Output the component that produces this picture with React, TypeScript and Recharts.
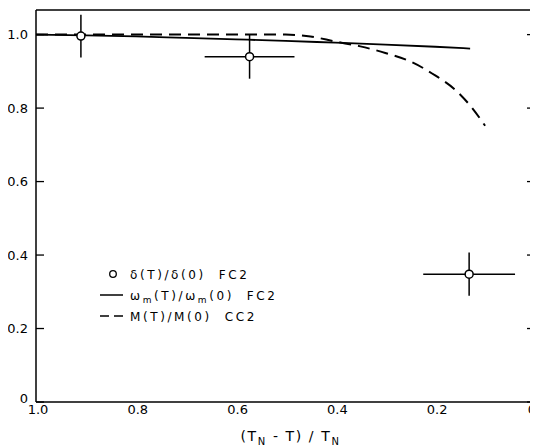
import React from "react";
import { ComposedChart, ErrorBar, Label, Legend, Line, Scatter, XAxis, YAxis } from "recharts";

// (T_N - T)/T_N values and reduced quantities
const deltaX = [0.91, 0.572, 0.132];
const deltaY = [0.996, 0.94, 0.348];
const deltaErrX = [0, 0.09, 0.092];
const deltaErrY = [0.058, 0.06, 0.059];

const omegaX = [1.0, 0.9, 0.8, 0.7, 0.6, 0.5, 0.4, 0.3, 0.2, 0.13];
const omegaY = [1.0, 0.998, 0.995, 0.991, 0.987, 0.983, 0.978, 0.973, 0.967, 0.962];

const magX = [1.0, 0.9, 0.8, 0.7, 0.6, 0.5, 0.45, 0.4, 0.35, 0.3, 0.25, 0.2, 0.16, 0.13, 0.1];
const magY = [1.0, 1.0, 1.0, 1.0, 1.0, 1.0, 0.995, 0.981, 0.968, 0.95, 0.927, 0.889, 0.85, 0.807, 0.752];

const xTicks = [1.0, 0.8, 0.6, 0.4, 0.2, 0];
const yTicks = [0, 0.2, 0.4, 0.6, 0.8, 1.0];

const deltaData = deltaX.map((x, i) => ({ x, y: deltaY[i], ex: deltaErrX[i], ey: deltaErrY[i] }));
const omegaData = omegaX.map((x, i) => ({ x, y: omegaY[i] }));
const magData = magX.map((x, i) => ({ x, y: magY[i] }));

const FONT = "'DejaVu Sans', sans-serif";
const fmt = (v: number) => (v === 0 ? "0" : v.toFixed(1));
const blank = () => "";

const XTick = (props: any) => {
  const { x, y, payload } = props;
  // the last label sits on the frame's right edge; keep it inside the page
  const atEdge = payload.value === 0;
  return (
    <text
      x={atEdge ? x + 1 : x + 2}
      y={y}
      dy="0.71em"
      textAnchor={atEdge ? "end" : "middle"}
      fontFamily={FONT}
      fontSize={13}
      fill="#000"
    >
      {fmt(payload.value)}
    </text>
  );
};

const YTick = (props: any) => {
  const { x, y, payload } = props;
  const lift = payload.value === 0 ? -4 : 0;
  return (
    <text x={x} y={y + lift} dy="0.355em" textAnchor="end" fontFamily={FONT} fontSize={13} fill="#000">
      {fmt(payload.value)}
    </text>
  );
};

const OpenCircle = (props: any) => (
  <circle cx={props.cx} cy={props.cy} r={4} fill="#fff" stroke="#000" strokeWidth={1.5} />
);

const XTitle = (props: any) => {
  const { viewBox } = props;
  const cx = viewBox.x + viewBox.width / 2 + 5;
  const by = viewBox.y + 39;
  return (
    <text x={cx} y={by} textAnchor="middle" fontFamily={FONT} fontSize={14} fill="#000" letterSpacing={1.6} style={{ whiteSpace: "pre" }}>
      (T<tspan dy={4} fontSize={10}>N</tspan>
      <tspan dy={-4}> - T) / T</tspan>
      <tspan dy={4} fontSize={10}>N</tspan>
    </text>
  );
};

const renderLegend = () => {
  const text = { fontFamily: FONT, fontSize: 12, fill: "#000", letterSpacing: 2.6, whiteSpace: "pre" as const };
  return (
    <svg width={230} height={66}>
      <circle cx={21} cy={11} r={3.3} fill="#fff" stroke="#000" strokeWidth={1.3} />
      <text x={38} y={15.5} style={text}>
        δ(T)/δ(0)  FC2
      </text>
      <line x1={8} x2={31} y1={32} y2={32} stroke="#000" strokeWidth={1.5} />
      <text x={38} y={36.5} style={text}>
        ω<tspan dy={3} fontSize={9}>m</tspan>
        <tspan dy={-3}>(T)/ω</tspan>
        <tspan dy={3} fontSize={9}>m</tspan>
        <tspan dy={-3}>(0)  FC2</tspan>
      </text>
      <line x1={8} x2={31} y1={53} y2={53} stroke="#000" strokeWidth={1.5} strokeDasharray="9 5" />
      <text x={38} y={57.5} style={text}>
        M(T)/M(0)  CC2
      </text>
    </svg>
  );
};

export default function App() {
  return (
    <ComposedChart width={530} height={438} margin={{ top: 2, right: 3, bottom: 0, left: 0 }}>
      <XAxis
        xAxisId="x"
        dataKey="x"
        type="number"
        domain={[0, 1]}
        reversed
        allowDataOverflow
        ticks={xTicks}
        interval={0}
        tick={XTick}
        tickLine={false}
        tickSize={0}
        tickMargin={3}
        height={44}
        axisLine={{ stroke: "#000", strokeWidth: 1.5 }}
      >
        <Label content={XTitle} />
      </XAxis>
      <XAxis
        xAxisId="xm"
        type="number"
        domain={[0, 1]}
        reversed
        allowDataOverflow
        mirror
        ticks={xTicks}
        interval={0}
        tickFormatter={blank}
        tickSize={8}
        tickLine={{ stroke: "#000", strokeWidth: 1.3 }}
        axisLine={false}
      />
      <XAxis
        xAxisId="top"
        orientation="top"
        type="number"
        domain={[0, 1]}
        reversed
        allowDataOverflow
        mirror
        ticks={xTicks}
        interval={0}
        tickFormatter={blank}
        tickSize={8}
        tickLine={{ stroke: "#000", strokeWidth: 1.3 }}
        axisLine={{ stroke: "#000", strokeWidth: 1.5 }}
      />
      <YAxis
        yAxisId="y"
        type="number"
        domain={[0, 1.067]}
        allowDataOverflow
        ticks={yTicks}
        interval={0}
        tick={YTick}
        tickLine={false}
        tickSize={0}
        tickMargin={8}
        width={28}
        axisLine={{ stroke: "#000", strokeWidth: 1.5 }}
      />
      <YAxis
        yAxisId="ym"
        type="number"
        domain={[0, 1.067]}
        allowDataOverflow
        mirror
        ticks={yTicks}
        interval={0}
        tickFormatter={blank}
        tickSize={8}
        tickLine={{ stroke: "#000", strokeWidth: 1.3 }}
        axisLine={false}
      />
      <YAxis
        yAxisId="r"
        orientation="right"
        type="number"
        domain={[0, 1.067]}
        allowDataOverflow
        mirror
        ticks={yTicks}
        interval={0}
        tickFormatter={blank}
        tickSize={8}
        tickLine={{ stroke: "#000", strokeWidth: 1.3 }}
        axisLine={{ stroke: "#000", strokeWidth: 1.5 }}
      />
      <Line
        xAxisId="x"
        yAxisId="y"
        data={omegaData}
        dataKey="y"
        type="monotone"
        stroke="#000"
        strokeWidth={1.8}
        dot={false}
        isAnimationActive={false}
      />
      <Line
        xAxisId="x"
        yAxisId="y"
        data={magData}
        dataKey="y"
        type="monotone"
        stroke="#000"
        strokeWidth={2}
        strokeDasharray="12 7"
        dot={false}
        isAnimationActive={false}
      />
      <Scatter xAxisId="x" yAxisId="y" data={deltaData} dataKey="y" shape={OpenCircle} isAnimationActive={false}>
        <ErrorBar dataKey="ey" direction="y" width={0} stroke="#000" strokeWidth={1.5} />
        <ErrorBar dataKey="ex" direction="x" width={0} stroke="#000" strokeWidth={1.5} />
      </Scatter>
      <Legend
        layout="vertical"
        align="center"
        verticalAlign="middle"
        content={renderLegend}
        wrapperStyle={{ left: 84, top: 255, width: 230, height: 66 }}
      />
    </ComposedChart>
  );
}
